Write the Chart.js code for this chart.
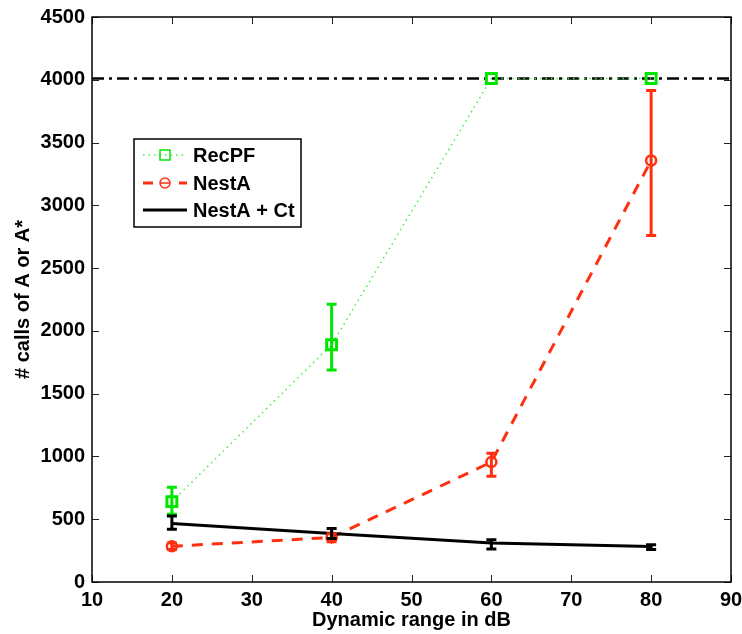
<!DOCTYPE html>
<html>
<head>
<meta charset="utf-8">
<script src="https://cdn.jsdelivr.net/npm/chart.js@4/dist/chart.umd.min.js"></script>
<style>
  html,body{margin:0;padding:0;background:#fff;}
  #wrap{width:742px;height:634px;position:relative;}
</style>
</head>
<body>
<div id="wrap"><canvas id="myChart"></canvas></div>
<script>
// dynamic range values (x) in dB
const ranges=[20,40,60,80];

// RecPF
const recpf=[640,1890,4010,4010];
const recpfLow=[540,1688,null,null];
const recpfHigh=[755,2213,null,null];

// NestA
const nesta=[284,355,955,3357];
const nestaLow=[258,320,842,2760];
const nestaHigh=[310,385,1026,3914];

// NestA + Ct
const nestaCt=[466,387,310,282];
const nestaCtLow=[421,347,263,258];
const nestaCtHigh=[526,426,337,297];

// max iteration level (dash-dot line)
const capLevel=4010;
const capRange=[10,90];

const xTicks=[10,20,30,40,50,60,70,80,90];
const yTicks=[0,500,1000,1500,2000,2500,3000,3500,4000,4500];

const green="#00e600";
const red="#ff3010";
const FONT="'Liberation Sans', Arial, Helvetica, sans-serif";

function pts(xs,ys){
    return xs.map((x,i)=>({x:x,y:ys[i]}));
}

// error bars drawn from the scales
const errorBars={
    id:"errorBars",
    afterDatasetsDraw(chart){
        const ctx=chart.ctx;
        const xs=chart.scales.x, ys=chart.scales.y;
        chart.data.datasets.forEach(ds=>{
            if(!ds.errLow) return;
            ctx.save();
            ctx.strokeStyle=ds.errColor;
            ctx.lineWidth=3;
            ctx.setLineDash([]);
            ranges.forEach((x,i)=>{
                if(ds.errLow[i]==null) return;
                const px=xs.getPixelForValue(x);
                const lo=ys.getPixelForValue(ds.errLow[i]);
                const hi=ys.getPixelForValue(ds.errHigh[i]);
                ctx.beginPath();
                ctx.moveTo(px,lo);ctx.lineTo(px,hi);
                ctx.moveTo(px-5,lo);ctx.lineTo(px+5,lo);
                ctx.moveTo(px-5,hi);ctx.lineTo(px+5,hi);
                ctx.stroke();
            });
            ctx.restore();
        });
    }
};

// box round the plot plus inward ticks
const frame={
    id:"frame",
    afterDraw(chart){
        const ctx=chart.ctx;
        const a=chart.chartArea;
        const xs=chart.scales.x, ys=chart.scales.y;
        ctx.save();
        ctx.strokeStyle="#222";
        ctx.lineWidth=1;
        ctx.beginPath();
        xTicks.forEach(v=>{
            const px=Math.round(xs.getPixelForValue(v))+0.5;
            ctx.moveTo(px,a.bottom);ctx.lineTo(px,a.bottom-7);
            ctx.moveTo(px,a.top);ctx.lineTo(px,a.top+7);
        });
        yTicks.forEach(v=>{
            const py=Math.round(ys.getPixelForValue(v))+0.5;
            ctx.moveTo(a.left,py);ctx.lineTo(a.left+7,py);
            ctx.moveTo(a.right,py);ctx.lineTo(a.right-7,py);
        });
        ctx.stroke();
        ctx.lineWidth=1.5;
        ctx.strokeStyle="#000";
        ctx.strokeRect(a.left,a.top,a.right-a.left,a.bottom-a.top);
        ctx.restore();
    }
};

// legend box inside the plot
const boxLegend={
    id:"boxLegend",
    afterDraw(chart){
        const ctx=chart.ctx;
        const bx=134, by=139, bw=167, bh=88;
        ctx.save();
        ctx.fillStyle="#fff";
        ctx.fillRect(bx,by,bw,bh);
        ctx.strokeStyle="#000";
        ctx.lineWidth=1.5;
        ctx.strokeRect(bx,by,bw,bh);
        const rows=[155,183,210];
        chart.data.datasets.filter(d=>d.inLegend).forEach((ds,i)=>{
            const y=rows[i];
            ctx.save();
            ctx.beginPath();
            ctx.rect(143,y-10,44,20);
            ctx.clip();
            ctx.strokeStyle=ds.borderColor;
            ctx.lineWidth=ds.borderWidth;
            ctx.setLineDash(ds.legendDash||[]);
            ctx.beginPath();
            ctx.moveTo(143,y);ctx.lineTo(190,y);
            ctx.stroke();
            ctx.restore();
            if(ds.pointRadius>0){
                ctx.setLineDash([]);
                ctx.strokeStyle=ds.pointBorderColor;
                ctx.lineWidth=1.5;
                ctx.beginPath();
                if(ds.pointStyle==="rect") ctx.rect(160,y-5,10,10);
                else {ctx.arc(165,y,5,0,Math.PI*2);ctx.moveTo(160,y);ctx.lineTo(170,y);}
                ctx.stroke();
            }
            ctx.fillStyle="#000";
            ctx.font="bold 20px "+FONT;
            ctx.textBaseline="middle";
            ctx.fillText(ds.label,193,y+1);
        });
        ctx.restore();
    }
};

Chart.defaults.font.family=FONT;
Chart.defaults.color="#000";

let myChart=document.querySelector("#myChart").getContext("2d");
var chart=new Chart(myChart,{
    type:"line",
    data:{
        datasets:[
            {
                label:"RecPF",
                data:pts(ranges,recpf),
                inLegend:true,
                borderColor:"#44ee44",
                borderWidth:1.5,
                borderDash:[1.5,4],
                legendDash:[1.5,4],
                pointStyle:"rect",
                pointRadius:7,
                pointBorderColor:green,
                pointBackgroundColor:"rgba(0,0,0,0)",
                pointBorderWidth:3,
                errLow:recpfLow,errHigh:recpfHigh,errColor:green,
                order:2
            },
            {
                label:"NestA",
                data:pts(ranges,nesta),
                inLegend:true,
                borderColor:red,
                borderWidth:3,
                borderDash:[11,9],
                legendDash:[10,26],
                pointStyle:"circle",
                pointRadius:5,
                pointBorderColor:red,
                pointBackgroundColor:"rgba(0,0,0,0)",
                pointBorderWidth:2.5,
                errLow:nestaLow,errHigh:nestaHigh,errColor:red,
                order:3
            },
            {
                label:"NestA + Ct",
                data:pts(ranges,nestaCt),
                inLegend:true,
                borderColor:"#000",
                borderWidth:3,
                pointRadius:0,
                errLow:nestaCtLow,errHigh:nestaCtHigh,errColor:"#000",
                order:1
            },
            {
                label:"limit",
                data:pts(capRange,[capLevel,capLevel]),
                borderColor:"#000",
                borderWidth:2.5,
                borderDash:[12,5,3,5],
                pointRadius:0,
                order:10
            }
        ]
    },
    options:{
        responsive:true,
        maintainAspectRatio:false,
        animation:false,
        layout:{padding:{top:17,right:11,left:0,bottom:0}},
        plugins:{legend:{display:false},tooltip:{enabled:false}},
        scales:{
            x:{
                type:"linear",
                min:10,max:90,
                afterBuildTicks:(s)=>{s.ticks=xTicks.map(v=>({value:v}));},
                afterFit:(s)=>{s.height=52;s.paddingLeft=0;s.paddingRight=0;},
                grid:{display:false,drawTicks:false},
                border:{display:false},
                ticks:{padding:6,font:{size:20,weight:"bold"},color:"#000",maxRotation:0,callback:(v)=>String(v)},
                title:{display:true,text:"Dynamic range in dB",font:{size:20,weight:"bold"},padding:{bottom:2}}
            },
            y:{
                type:"linear",
                min:0,max:4500,
                afterBuildTicks:(s)=>{s.ticks=yTicks.map(v=>({value:v}));},
                afterFit:(s)=>{s.width=92;s.paddingTop=0;s.paddingBottom=0;},
                grid:{display:false,drawTicks:false},
                border:{display:false},
                ticks:{padding:7,font:{size:20,weight:"bold"},color:"#000",callback:(v)=>String(v)},
                title:{display:true,text:"# calls of A or A*",font:{size:20,weight:"bold"},padding:{top:11}}
            }
        }
    },
    plugins:[errorBars,frame,boxLegend]
});
</script>
</body>
</html>
